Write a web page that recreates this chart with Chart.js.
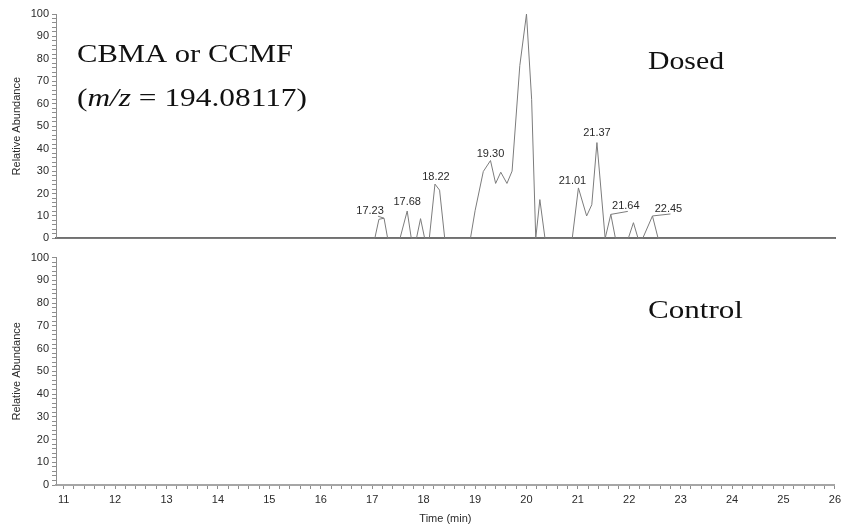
<!DOCTYPE html>
<html>
<head>
<meta charset="utf-8">
<script src="https://cdn.jsdelivr.net/npm/chart.js@4.4.1/dist/chart.umd.min.js"></script>
<style>
  html, body { margin: 0; padding: 0; background: #fff; }
  #wrap { position: relative; width: 845px; height: 531px; }
  #topBox { position: absolute; left: 0; top: 0; width: 845px; height: 248px; }
  #botBox { position: absolute; left: 0; top: 248px; width: 845px; height: 283px; }
</style>
</head>
<body>
<div id="wrap">
  <div id="topBox"><canvas id="dosedChart" width="845" height="248"></canvas></div>
  <div id="botBox"><canvas id="controlChart" width="845" height="283"></canvas></div>
</div>
<script>
// extracted ion chromatogram, dosed sample (time in min, relative abundance)
const dosedTimes = [10.85, 17.05, 17.13, 17.23, 17.30, 17.54, 17.68, 17.76, 17.86, 17.94, 18.02,
  18.11, 18.22, 18.31, 18.41, 18.91, 19.00, 19.16, 19.30, 19.40, 19.50, 19.62, 19.72, 19.87,
  20.00, 20.10, 20.18, 20.26, 20.36, 20.89, 21.01, 21.17, 21.27, 21.37, 21.53, 21.64, 21.73,
  21.98, 22.08, 22.17, 22.26, 22.45, 22.56, 26.00];
const dosedAbundance = [0, 0, 8.5, 9, 0, 0, 12.2, 0, 0, 8.8, 0,
  0, 24.2, 21.5, 0, 0, 12.3, 29.8, 34.7, 24.5, 29.5, 24.5, 30, 77,
  100, 62, 0, 17.3, 0, 0, 22.5, 10, 15, 42.7, 0, 10.7, 0,
  0, 7, 0, 0, 10, 0, 0];

// control sample: nothing detected
const controlTimes = [10.85, 26.00];
const controlAbundance = [0, 0];

// labelled peaks
const peakLabels = ['17.23', '17.68', '18.22', '19.30', '21.01', '21.37', '21.64', '22.45'];
const peakTimes = [17.23, 17.68, 18.22, 19.30, 21.01, 21.37, 21.64, 22.45];
const peakAbundance = [9, 12.2, 24.2, 34.7, 22.5, 42.7, 10.7, 10];

const xMajorTicks = [11, 12, 13, 14, 15, 16, 17, 18, 19, 20, 21, 22, 23, 24, 25, 26];
const yMajorTicks = [0, 10, 20, 30, 40, 50, 60, 70, 80, 90, 100];

const AXIS_GREY = '#8e8e8e';
const TEXT_DARK = '#2a2a2a';
const TRACE_GREY = '#7c7c7c';
const SANS = '"Liberation Sans", Arial, sans-serif';
const SERIF = '"Liberation Serif", "Times New Roman", serif';

function minorTicks(majors, parts) {
  const out = [];
  for (let i = 0; i < majors.length - 1; i++) {
    const a = majors[i], b = majors[i + 1];
    for (let k = 0; k < parts; k++) out.push(+(a + (b - a) * k / parts).toFixed(4));
  }
  out.push(majors[majors.length - 1]);
  return out;
}
const isMajor = (v, majors) => majors.some(m => Math.abs(m - v) < 1e-6);

function yAxis() {
  return {
    min: 0,
    max: 100,
    afterBuildTicks: s => { s.ticks = minorTicks(yMajorTicks, 5).map(v => ({ value: v })); },
    afterFit: s => { s.width = 56; },
    ticks: {
      autoSkip: false,
      padding: 3,
      color: TEXT_DARK,
      font: { family: SANS, size: 11 },
      callback: v => isMajor(v, yMajorTicks) ? String(v) : ''
    },
    grid: { drawOnChartArea: false, tickLength: 4, color: AXIS_GREY },
    border: { color: AXIS_GREY, width: 1 },
    title: {
      display: true,
      text: 'Relative Abundance',
      color: TEXT_DARK,
      font: { family: SANS, size: 11 },
      padding: { top: 10, bottom: 0 }
    }
  };
}

// stretched serif text, the reference uses a wide face
function drawWide(ctx, segments, x, y, width) {
  ctx.save();
  let total = 0;
  segments.forEach(sg => {
    ctx.font = (sg.italic ? 'italic ' : '') + '25px ' + SERIF;
    sg.w = ctx.measureText(sg.text).width;
    total += sg.w;
  });
  ctx.translate(x, y);
  ctx.scale(width / total, 1);
  ctx.fillStyle = '#111';
  ctx.textBaseline = 'alphabetic';
  ctx.textAlign = 'left';
  let cx = 0;
  segments.forEach(sg => {
    ctx.font = (sg.italic ? 'italic ' : '') + '25px ' + SERIF;
    ctx.fillText(sg.text, cx, 0);
    cx += sg.w;
  });
  ctx.restore();
}

// label offsets from the peak apex, in px: [dx, dy, leader line]
const labelOffsets = [[-14, -4, true], [0, -6, false], [1, -4, false], [0, -4, false],
  [-6, -4, false], [0, -7, false], [15, -5, true], [16, -4, true]];

const peakLabelPlugin = {
  id: 'peakLabels',
  afterDatasetsDraw(chart) {
    const { ctx, scales: { x, y } } = chart;
    ctx.save();
    ctx.font = '11px ' + SANS;
    ctx.textAlign = 'center';
    ctx.textBaseline = 'alphabetic';
    peakLabels.forEach((lab, i) => {
      const px = x.getPixelForValue(peakTimes[i]);
      const py = y.getPixelForValue(peakAbundance[i]);
      const [dx, dy, leader] = labelOffsets[i];
      if (leader) {
        ctx.strokeStyle = TRACE_GREY;
        ctx.lineWidth = 1;
        ctx.beginPath();
        ctx.moveTo(px, py);
        ctx.lineTo(px + dx + (dx > 0 ? 2 : 8), py + dy + 2);
        ctx.stroke();
      }
      ctx.fillStyle = TEXT_DARK;
      ctx.fillText(lab, px + dx, py + dy);
    });
    ctx.restore();
  }
};

const dosedTextPlugin = {
  id: 'dosedText',
  afterDraw(chart) {
    const ctx = chart.ctx;
    drawWide(ctx, [{ text: 'CBMA or CCMF' }], 77, 62, 216);
    drawWide(ctx, [{ text: '(' }, { text: 'm/z', italic: true }, { text: ' = 194.08117)' }], 77, 106, 230);
    drawWide(ctx, [{ text: 'Dosed' }], 648, 69, 76);
  }
};

const controlTextPlugin = {
  id: 'controlText',
  afterDraw(chart) {
    drawWide(chart.ctx, [{ text: 'Control' }], 648, 318 - 248, 95);
  }
};

function toPoints(xs, ys) {
  return xs.map((t, i) => ({ x: t, y: ys[i] }));
}

const common = {
  responsive: false,
  animation: false,
  devicePixelRatio: 1,
  plugins: { legend: { display: false }, tooltip: { enabled: false } },
  elements: { point: { radius: 0 }, line: { tension: 0 } }
};

new Chart(document.getElementById('dosedChart'), {
  type: 'line',
  data: {
    datasets: [{
      data: toPoints(dosedTimes, dosedAbundance),
      borderColor: TRACE_GREY,
      borderWidth: 1,
      fill: false,
      clip: 4
    }]
  },
  options: {
    ...common,
    layout: { padding: { top: 14, right: 10, left: 0, bottom: 0 } },
    scales: {
      x: {
        type: 'linear',
        min: 10.85,
        max: 26,
        afterFit: s => { s.height = 7; },
        ticks: { display: false },
        grid: { display: false, drawTicks: false },
        border: { color: '#6f6f6f', width: 2 }
      },
      y: yAxis()
    }
  },
  plugins: [peakLabelPlugin, dosedTextPlugin]
});

new Chart(document.getElementById('controlChart'), {
  type: 'line',
  data: {
    datasets: [{
      data: toPoints(controlTimes, controlAbundance),
      borderColor: '#a6a6a6',
      borderWidth: 1,
      fill: false,
      clip: 4
    }]
  },
  options: {
    ...common,
    layout: { padding: { top: 8, right: 10, left: 0, bottom: 0 } },
    scales: {
      x: {
        type: 'linear',
        min: 10.85,
        max: 26,
        afterBuildTicks: s => { s.ticks = minorTicks(xMajorTicks, 5).map(v => ({ value: v })); },
        afterFit: s => { s.height = 46; },
        ticks: {
          autoSkip: false,
          maxRotation: 0,
          minRotation: 0,
          padding: 4,
          color: TEXT_DARK,
          font: { family: SANS, size: 11 },
          callback: v => isMajor(v, xMajorTicks) ? String(Math.round(v)) : ''
        },
        grid: { drawOnChartArea: false, tickLength: 4, color: AXIS_GREY },
        border: { color: '#a6a6a6', width: 2 },
        title: {
          display: true,
          text: 'Time (min)',
          color: TEXT_DARK,
          font: { family: SANS, size: 11 },
          padding: { top: 0, bottom: 5 }
        }
      },
      y: yAxis()
    }
  },
  plugins: [controlTextPlugin]
});
</script>
</body>
</html>
